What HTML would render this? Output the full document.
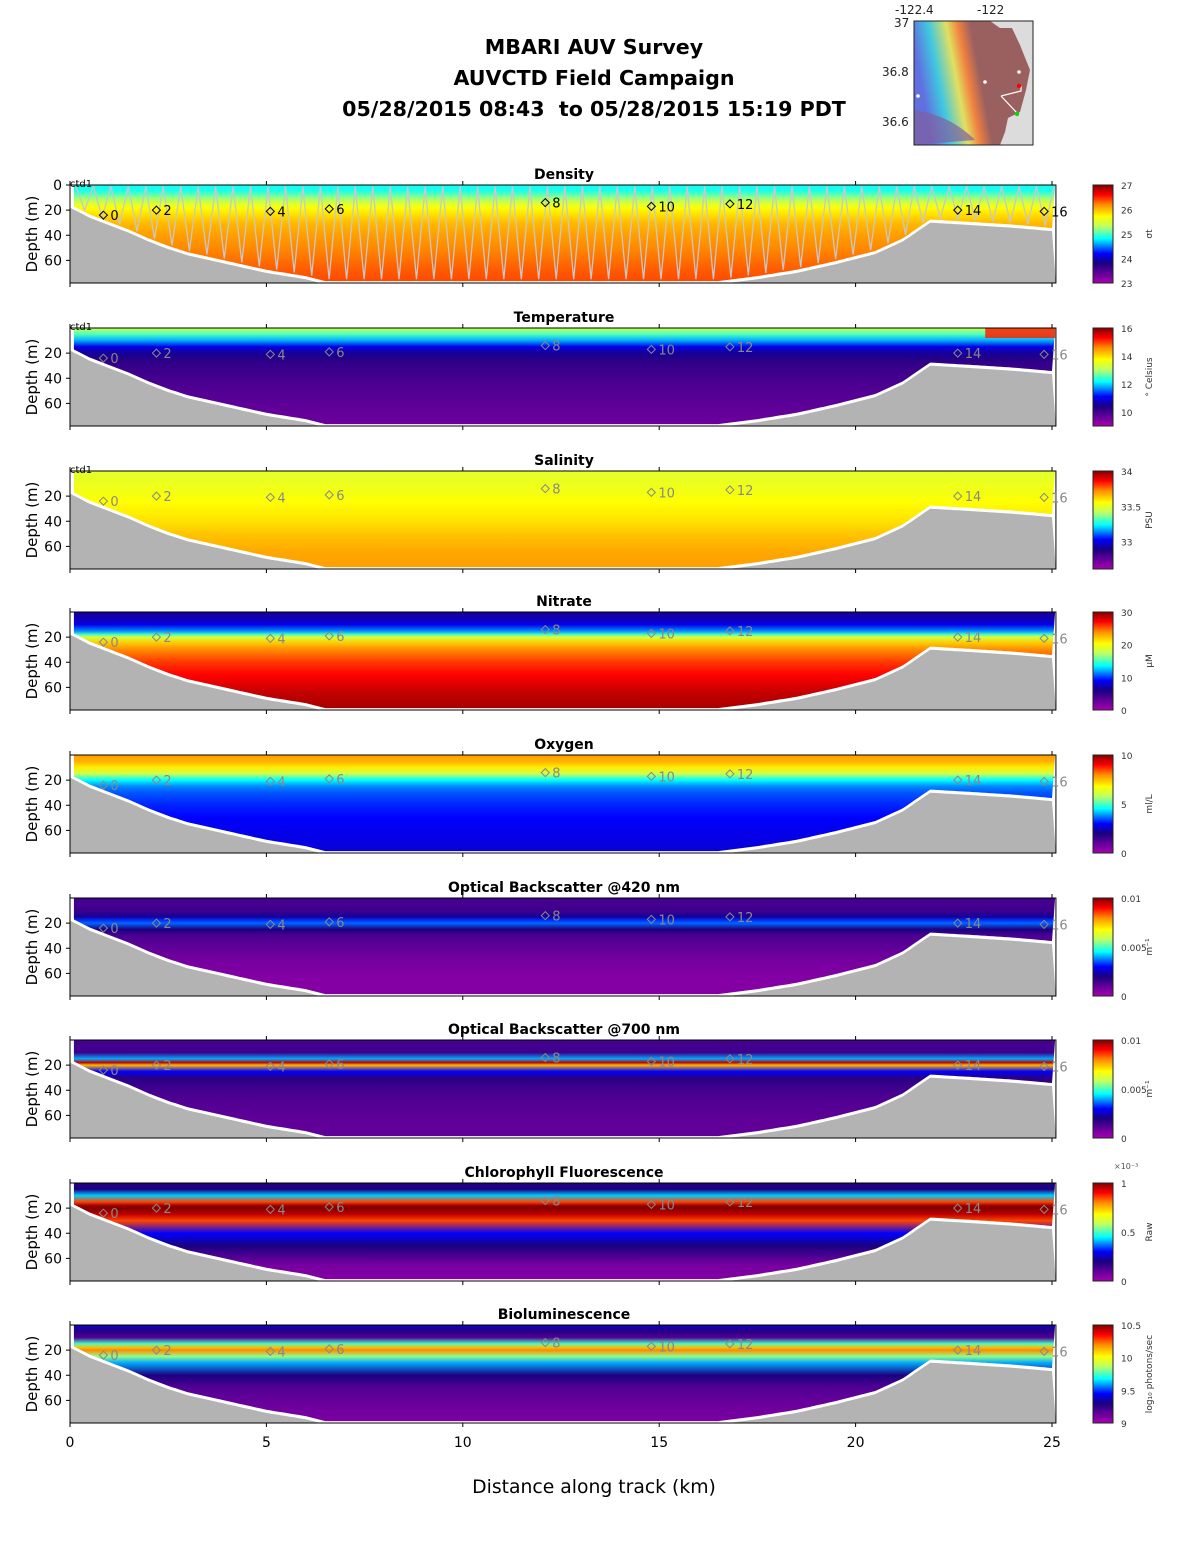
<!DOCTYPE html>
<html><head><meta charset="utf-8"><style>
html,body{margin:0;padding:0;background:#fff;}
svg{display:block;font-family:"DejaVu Sans","Liberation Sans",sans-serif;}
</style></head><body>
<svg id="fig" width="1188" height="1548" viewBox="0 0 1188 1548" xmlns="http://www.w3.org/2000/svg">
<g font-weight="bold" font-size="20.6" text-anchor="middle" fill="#000">
<text x="594" y="54">MBARI AUV Survey</text>
<text x="594" y="85">AUVCTD Field Campaign</text>
<text x="594" y="116" xml:space="preserve">05/28/2015 08:43  to 05/28/2015 15:19 PDT</text>
</g>
<g id="map"></g>
<defs id="defs"></defs>
<g id="panels"></g>
<text x="594" y="1493" font-size="18.8" text-anchor="middle">Distance along track (km)</text>
</svg>
<script>
// ---- data ----
const panelTitles = ["Density","Temperature","Salinity","Nitrate","Oxygen","Optical Backscatter @420 nm","Optical Backscatter @700 nm","Chlorophyll Fluorescence","Bioluminescence"];
const panelTops = [185,328,471,612,755,898,1040,1183,1325];
const xTicks = [0,5,10,15,20,25];
const depthTicks = [20,40,60];
const bathyKm = [0,0.5,1,1.5,2,2.5,3,4,5,6,6.5,16.5,17.5,18.5,19.5,20.5,21.2,21.9,23,24,25.1];
const bathyDepth = [18,26,32,38,45,51,56,63,70,75,79,79,75,70,63,55,45,30,32,34,37];
const stationKm = [0.85,2.2,5.1,6.6,12.1,14.8,16.8,22.6,24.8];
const stationDepth = [24,20,21,19,14,17,15,20,21];
const stationLabels = ["0","2","4","6","8","10","12","14","16"];
// profiles: depth (m) -> normalized value (0..1)
const profDepths = [0,5,10,15,18,20,25,30,40,50,65,80];
const profDensity = [0.46,0.47,0.55,0.63,0.67,0.69,0.72,0.75,0.78,0.80,0.83,0.85];
const profTemp =    [0.6,0.5,0.4,0.28,0.24,0.22,0.18,0.16,0.14,0.12,0.1,0.08];
const profSal =     [0.64,0.64,0.65,0.66,0.66,0.67,0.68,0.69,0.71,0.74,0.77,0.78];
const profNitrate = [0.22,0.24,0.28,0.38,0.5,0.62,0.74,0.8,0.86,0.9,0.95,0.97];
const profOxygen =  [0.78,0.76,0.7,0.6,0.5,0.45,0.38,0.35,0.32,0.3,0.28,0.27];
const profObs420 =  [0.14,0.14,0.15,0.22,0.33,0.36,0.2,0.13,0.1,0.07,0.05,0.05];
const profObs700 =  [0.14,0.14,0.15,0.4,0.95,0.75,0.3,0.18,0.14,0.12,0.1,0.1];
const profChl =     [0.18,0.2,0.42,0.85,0.98,1.0,0.95,0.85,0.3,0.2,0.07,0.05];
const profBio =     [0.25,0.18,0.12,0.5,0.75,0.8,0.55,0.4,0.2,0.12,0.08,0.06];
const profiles = [profDensity,profTemp,profSal,profNitrate,profOxygen,profObs420,profObs700,profChl,profBio];
const cbTickLabels = [["27","26","25","24","23"],["16","14","12","10"],["34","33.5","33"],["30","20","10","0"],["10","5","0"],["0.01","0.005","0"],["0.01","0.005","0"],["1","0.5","0"],["10.5","10","9.5","9"]];
const cbTickFrac = [[1,0.75,0.5,0.25,0],[1,0.714,0.43,0.143],[1,0.64,0.28],[1,0.667,0.333,0],[1,0.5,0],[1,0.5,0],[1,0.5,0],[1,0.5,0],[1,0.667,0.333,0]];
const cbUnits = ["σt","° Celsius","PSU","μM","ml/L","m⁻¹","m⁻¹","Raw","log₁₀ photons/sec"];
const yoCount = 112;

// ---- geometry ----
const X0=70, X1=1052, PH=98, DMAX=78;
const xs = km => X0 + km*(X1-X0)/25;
const ys = (top,d) => top + Math.min(d,DMAX)*PH/DMAX;
const cmapStops = [[0,'#a800b0'],[0.1,'#600098'],[0.2,'#1a0080'],[0.3,'#0000ff'],[0.45,'#00ffff'],[0.58,'#c0ff60'],[0.68,'#ffff00'],[0.8,'#ff8a00'],[0.9,'#ff0000'],[1,'#800000']];
const NS='http://www.w3.org/2000/svg';
function mk(tag,attrs,parent){const e=document.createElementNS(NS,tag);for(const k in attrs)e.setAttribute(k,attrs[k]);if(parent)parent.appendChild(e);return e;}
const defs=document.getElementById('defs'), panels=document.getElementById('panels');
function bathyAt(km){for(let i=1;i<bathyKm.length;i++){if(km<=bathyKm[i]){const t=(km-bathyKm[i-1])/(bathyKm[i]-bathyKm[i-1]);return bathyDepth[i-1]+t*(bathyDepth[i]-bathyDepth[i-1]);}}return bathyDepth[bathyDepth.length-1];}
function mix(a,b,t){const pa=[1,3,5].map(i=>parseInt(a.substr(i,2),16)),pb=[1,3,5].map(i=>parseInt(b.substr(i,2),16));return 'rgb('+pa.map((v,i)=>Math.round(v+(pb[i]-v)*t)).join(',')+')';}

const cbg=mk('linearGradient',{id:'cbgrad',x1:0,y1:1,x2:0,y2:0},defs);
cmapStops.forEach(s=>mk('stop',{offset:s[0],'stop-color':s[1]},cbg));

panelTitles.forEach((title,p)=>{
  const top=panelTops[p], bot=top+PH;
  const g=mk('g',{},panels);
  
  
  const gr=mk('linearGradient',{id:'g'+p,gradientUnits:'userSpaceOnUse',x1:0,y1:top,x2:0,y2:bot},defs);
  profDepths.forEach((d,i)=>{
    const v=profiles[p][i];
    let c=cmapStops[cmapStops.length-1][1];
    for(let j=1;j<cmapStops.length;j++){if(v<=cmapStops[j][0]){const a=cmapStops[j-1],b=cmapStops[j];const t=(v-a[0])/(b[0]-a[0]);c=mix(a[1],b[1],t);break;}}
    mk('stop',{offset:Math.min(d/DMAX,1),'stop-color':c},gr);
  });
  let pts=[[xs(0.1),top]];
  for(let k=0.1;k<=25.08;k+=0.1){pts.push([xs(k),ys(top,Math.max(bathyAt(k)-2.5,0))]);}
  pts.push([xs(25.08),top]);
  const dp=mk('polygon',{points:pts.map(q=>q[0].toFixed(1)+','+q[1].toFixed(1)).join(' '),fill:'url(#g'+p+')'},g);
  
  
  if(p===1){const w=mk('rect',{x:xs(23.3),y:top,width:xs(25.08)-xs(23.3),height:10,fill:'#ff2000',opacity:0.85},g);}
  let bp=[[X0,bot]];
  for(let k=0;k<=25.1;k+=0.1){bp.push([xs(k),ys(top,bathyAt(k))]);}
  bp.push([xs(25.1),bot]);
  const bpoly=mk('polygon',{points:bp.map(q=>q[0].toFixed(1)+','+q[1].toFixed(1)).join(' '),fill:'#b3b3b3'},g);
  
  
  if(p===0){
    let tp=[];
    for(let i=0;i<=yoCount;i++){const km=0.15+i*24.9/yoCount;const d=(i%2===0)?1:Math.max(bathyAt(km)-4,5);tp.push(xs(km).toFixed(1)+','+ys(top,d).toFixed(1));}
    const tl=mk('polyline',{points:tp.join(' '),fill:'none',stroke:'#c8c8c8','stroke-width':1.3},g);
    
    
  }
  const box=mk('rect',{x:X0,y:top,width:xs(25.1)-X0,height:PH,fill:'none',stroke:'#000','stroke-width':1},g);
  
  
  xTicks.forEach(t=>{
    mk('line',{x1:xs(t),y1:bot,x2:xs(t),y2:bot+4,stroke:'#000'},g);
    mk('line',{x1:xs(t),y1:top,x2:xs(t),y2:top-4,stroke:'#000'},g);
  });
  const dt=p===0?[0].concat(depthTicks):depthTicks;
  dt.forEach(d=>{
    mk('line',{x1:X0,y1:ys(top,d),x2:X0-4,y2:ys(top,d),stroke:'#000'},g);
    const tx=mk('text',{x:X0-8,y:ys(top,d)+5,'font-size':14,'text-anchor':'end'},g);tx.textContent=d;
    
    
  });
  const yl=mk('text',{x:37,y:top+PH/2,'font-size':15,'text-anchor':'middle',transform:'rotate(-90 37 '+(top+PH/2)+')'},g);yl.textContent='Depth (m)';
  
  
  const tt=mk('text',{x:564,y:top-6,'font-size':14,'font-weight':'bold','text-anchor':'middle'},g);tt.textContent=title;
  
  
  if(p<3){const c=mk('text',{x:70,y:top+2,'font-size':10},g);c.textContent='ctd1';}
  stationKm.forEach((k,i)=>{
    const col=p===0?'#000':'#888';
    const sx=xs(k), sy=ys(top,stationDepth[i]);
    const m=mk('path',{d:`M${sx-4},${sy} L${sx},${sy-4} L${sx+4},${sy} L${sx},${sy+4} Z`,fill:'none',stroke:col,'stroke-width':1},g);
    
    
    const st=mk('text',{x:sx+7,y:sy+5,'font-size':13,fill:col},g);st.textContent=stationLabels[i];
    
    
  });
  const cb=mk('rect',{x:1093,y:top,width:20,height:PH,fill:'url(#cbgrad)',stroke:'#222','stroke-width':1},g);
  
  
  cbTickLabels[p].forEach((lab,i)=>{
    const ty=bot-cbTickFrac[p][i]*PH;
    const t=mk('text',{x:1121,y:ty+4,'font-size':9,fill:'#333'},g);t.textContent=lab;
    
    
  });
  const ux=1152, uy=top+PH/2;
  const u=mk('text',{x:ux,y:uy,'font-size':9,fill:'#333','text-anchor':'middle',transform:`rotate(-90 ${ux} ${uy})`},g);u.textContent=cbUnits[p];
  
  
  if(p===7){const e=mk('text',{x:1114,y:top-14,'font-size':8,fill:'#555'},g);e.textContent='×10⁻³';}
});
xTicks.forEach(t=>{
  const tx=mk('text',{x:xs(t),y:1447,'font-size':14,'text-anchor':'middle'},panels);tx.textContent=t;
  
  
});

// ---- map inset ----
const map=document.getElementById('map');
const mg=mk('linearGradient',{id:'mapg',x1:0,y1:0.2,x2:1,y2:0},defs);
[[0,'#6070e0'],[0.15,'#40c8e0'],[0.3,'#e0e060'],[0.4,'#f08040'],[0.5,'#9a6060'],[1,'#9a6060']].forEach(s=>mk('stop',{offset:s[0],'stop-color':s[1]},mg));
mk('rect',{x:914,y:21,width:119,height:124,fill:'#dcdcdc'},map);
const land=mk('path',{d:'M914,21 L990,21 L1000,28 L1012,28 L1020,45 L1030,70 L1026,90 L1020,112 L1008,118 L1005,132 L1000,145 L914,145 Z',fill:'url(#mapg)'},map);


mk('path',{d:'M914,110 Q950,115 975,140 L914,145 Z',fill:'#8060a0',opacity:0.7},map);
mk('polyline',{points:'1001,96 1021,91 1021,86',fill:'none',stroke:'#fff','stroke-width':1.2},map);
mk('line',{x1:1001,y1:96,x2:1017,y2:113,stroke:'#fff','stroke-width':1.2},map);
mk('circle',{cx:1019,cy:86,r:2.2,fill:'#f00'},map);
mk('circle',{cx:1017,cy:114,r:2.2,fill:'#0d0'},map);
mk('circle',{cx:1019,cy:72,r:1.8,fill:'#fff'},map);
mk('circle',{cx:985,cy:82,r:1.8,fill:'#fff'},map);
mk('circle',{cx:918,cy:96,r:1.8,fill:'#fff'},map);
mk('rect',{x:914,y:21,width:119,height:124,fill:'none',stroke:'#222'},map);
[['-122.4',895,14],['-122',977,14],['37',894,27],['36.8',882,76],['36.6',882,126]].forEach(a=>{const t=mk('text',{x:a[1],y:a[2],'font-size':12,fill:'#222'},map);t.textContent=a[0];});
</script>
</body></html>
